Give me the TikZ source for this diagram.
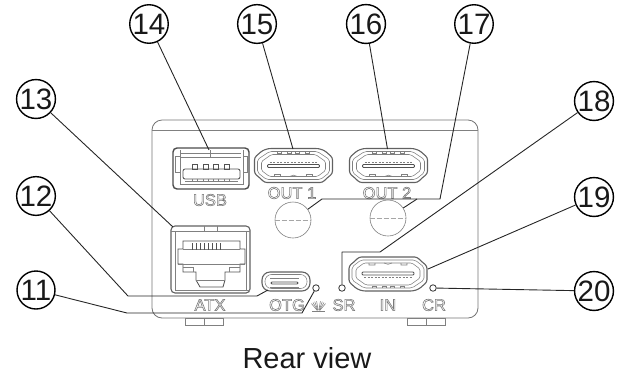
\documentclass[tikz,border=0pt]{standalone}
\usepackage{fontspec}
\setmainfont{Liberation Sans}
\newcommand{\hollow}[1]{\special{pdf:code 1 Tr 0.6 w 0.48 G}#1\special{pdf:code 0 Tr 0 G}}
\tikzset{
  callout/.style={draw=black,line width=1.4pt,circle,minimum size=38pt,inner sep=0pt,font=\fontsize{29.5}{29.5}\selectfont,text=black!90},
  leader/.style={draw=black!85,line width=.9pt,line join=round},
  dev/.style={draw=black!68,line width=.85pt},
  devd/.style={draw=black!62,line width=1.1pt},
  thin part/.style={draw=black!50,line width=.55pt},
  portlabel/.style={inner sep=0pt,font=\fontsize{16.5}{16.5}\selectfont,text=black!50},
  led/.style={draw=black!80,fill=white,line width=.8pt,circle,minimum size=6.5pt,inner sep=0pt},
  hole/.style={draw=black!50,line width=.6pt,circle,minimum size=36pt,inner sep=0pt},
  hdmi/.pic={
    \draw[devd,rounded corners=2.5pt] (-25,-17) -- (25,-17) -- (31,-15) -- (39,-8) -- (39,8) -- (33,13) -- (29,17) -- (-29,17) -- (-33,13) -- (-39,8) -- (-39,-8) -- (-31,-15) -- cycle;
    \draw[thin part,rounded corners=2pt] (-24,-14) -- (24,-14) -- (36,-6) -- (36,7) -- (27,14) -- (-27,14) -- (-36,7) -- (-36,-6) -- cycle;
    \draw[thin part,rounded corners=1.5pt] (-22,-11) -- (22,-11) -- (32,-4) -- (32,5) -- (24,11) -- (-24,11) -- (-32,5) -- (-32,-4) -- cycle;
    \draw[dev,rounded corners=1pt] (-26,-1) rectangle (26,2);
    \draw[thin part,dash pattern=on 2pt off 1.5pt] (-24,-3) -- (24,-3);
    \foreach \xx in {-16,-6,2,12}{\draw[thin part] (\xx,-14) -- (\xx,-12) -- (\xx+4,-12) -- (\xx+4,-14);}
    \draw[thin part] (-19,11) -- (-19,9) -- (-13,9) -- (-13,11) (-4,11) to[bend left=35] (4,11) (13,11) -- (13,9) -- (19,9) -- (19,11);
  }
}
\begin{document}
\begin{tikzpicture}[x=1pt,y=-1pt]
\useasboundingbox (0,0) rectangle (624,376);
% housing
\draw[draw=black!55,line width=.8pt,rounded corners=10pt] (152,318) -- (152,120) -- (478,120) -- (478,318) -- cycle;
\draw[thin part] (152,130) -- (478,130);
\draw[thin part] (185,318) rectangle (223,325) (204,318) -- (204,325);
\draw[thin part] (407,318) rectangle (445,325) (426,318) -- (426,325);
% USB
\draw[draw=black!70,line width=1.4pt,rounded corners=4pt] (173,148) rectangle (249,189);
\draw[thin part] (180,150) -- (180,184) -- (243,184) -- (243,150);
\draw[thin part] (181,153) -- (241,153) (210,150) -- (210,157) (181,157) -- (241,157);
\draw[dev,rounded corners=2pt] (183,169) rectangle (240,179);
\foreach \xx in {192,203,213,224}{\draw[dev] (\xx,164) rectangle (\xx+5,169);}
\foreach \xx in {192,203,213,224}{\draw[thin part] (\xx,179) -- (\xx,181) -- (\xx+5,181) -- (\xx+5,179);}
\draw[thin part] (185,181) -- (238,181) (175,156) rectangle (180,172) (243,156) rectangle (247,172);
% HDMI
\pic at (293.5,165.5) {hdmi};
\pic at (388.5,165.5) {hdmi};
\pic[yscale=-1] at (388,274) {hdmi};
% RJ45
\draw[devd,rounded corners=4pt] (171,226) rectangle (250,293);
\draw[thin part] (171,231) -- (250,231) (175,231) -- (175,290) -- (250,290) (246,231) -- (246,290);
\draw[thin part] (204,226) -- (204,231) (217,226) -- (217,231);
\draw[dev] (183,241) -- (240,241) -- (240,249) -- (245,249) -- (245,264) -- (240,264) -- (240,272) -- (225,272) -- (225,280) -- (223,287) -- (200,287) -- (196,280) -- (196,272) -- (183,272) -- (183,264) -- (178,264) -- (178,249) -- (183,249) -- cycle;
\draw[thin part] (183,249) -- (240,249) (178,264) -- (245,264);
\foreach \xx in {192,196,...,220}{\draw[dev] (\xx,243) -- (\xx,250);}
\draw[thin part] (183,267) -- (193,267) -- (193,272) (229,272) -- (229,267) -- (240,267);
\draw[thin part] (196,280) -- (225,280);
% USB-C
\draw[devd,rounded corners=8pt] (262,272) rectangle (310,291);
\draw[thin part,rounded corners=6.5pt] (265,274.5) rectangle (307,288.5);
\draw[dev,rounded corners=1pt] (271,282) rectangle (298,284);
\draw[thin part] (270,278) -- (299,278) (270,287) -- (299,287);
% holes
\node[hole] (h1) at (293,220) {};
\node[hole] (h2) at (388,218) {};
\draw[draw=black!35,line width=.4pt,dash pattern=on 5pt off 2pt] (h1.west) -- (h1.east);
\draw[draw=black!35,line width=.4pt,dash pattern=on 5pt off 2pt] (h2.west) -- (h2.east);
% labels
\node[portlabel] (lusb) at (210,200) {\hollow{USB}};
\node[portlabel] (lo1) at (292,193) {\hollow{OUT 1}};
\node[portlabel] (lo2) at (387,193) {\hollow{OUT 2}};
\node[portlabel] (latx) at (210,305) {\hollow{ATX}};
\node[portlabel] (lotg) at (287,305) {\hollow{OTG}};
\node[portlabel] (lsr) at (344,305) {\hollow{SR}};
\node[portlabel] (lin) at (388,305) {\hollow{IN}};
\node[portlabel] (lcr) at (434,305) {\hollow{CR}};
% regulatory symbol
\foreach \aa in {50,60,70,80}{
  \draw[thin part] (318.5,312) ++(-\aa:2) -- ++(-\aa:9);
  \draw[thin part] (318.5,312) ++(-180+\aa:2) -- ++(-180+\aa:9);
}
\draw[thin part] (312,311.5) -- (325,311.5);
% LEDs
\node[led] (l1) at (316,288) {};
\node[led] (l2) at (342,288) {};
\node[led] (l3) at (433,288) {};
% callouts
\node[callout] (c11) at (36,290) {11};
\node[callout] (c12) at (36,196) {12};
\node[callout] (c13) at (36,99) {13};
\node[callout] (c14) at (149,24) {14};
\node[callout] (c15) at (257,24) {15};
\node[callout] (c16) at (366,24) {16};
\node[callout] (c17) at (474,24) {17};
\node[callout] (c18) at (594,101) {18};
\node[callout] (c19) at (594,197) {19};
\node[callout] (c20) at (594,291) {20};
% targets
\coordinate (t13) at (173,227);
\coordinate (t14) at (209,150);
\coordinate (t15) at (293,149);
\coordinate (t16) at (387.5,149);
\coordinate (t19) at (428,269);
\coordinate (t12) at (268,290);
\coordinate (k121) at (128,296);
\coordinate (k122) at (257,296);
\coordinate (k111) at (127,313);
\coordinate (k112) at (302,313);
\coordinate (k171) at (440,199);
\coordinate (k172) at (322,199);
\coordinate (k173) at (417,199);
\coordinate (k181) at (380,252);
\coordinate (k182) at (342,252);
% leaders
\draw[leader] (c13) -- (t13);
\draw[leader] (c14) -- (t14);
\draw[leader] (c15) -- (t15);
\draw[leader] (c16) -- (t16);
\draw[leader] (c17) -- (k171) -- (k172) -- (h1);
\draw[leader] (k173) -- (h2);
\draw[leader] (c18) -- (k181) -- (k182) -- (l2);
\draw[leader] (c19) -- (t19);
\draw[leader] (c20) -- (l3);
\draw[leader] (c12) -- (k121) -- (k122) -- (t12);
\draw[leader] (c11) -- (k111) -- (k112) -- (l1);
% caption
\node[inner sep=0pt,anchor=base,font=\fontsize{29}{29}\selectfont,text=black!90] (cap) at (307,368) {Rear view};
\end{tikzpicture}
\end{document}
